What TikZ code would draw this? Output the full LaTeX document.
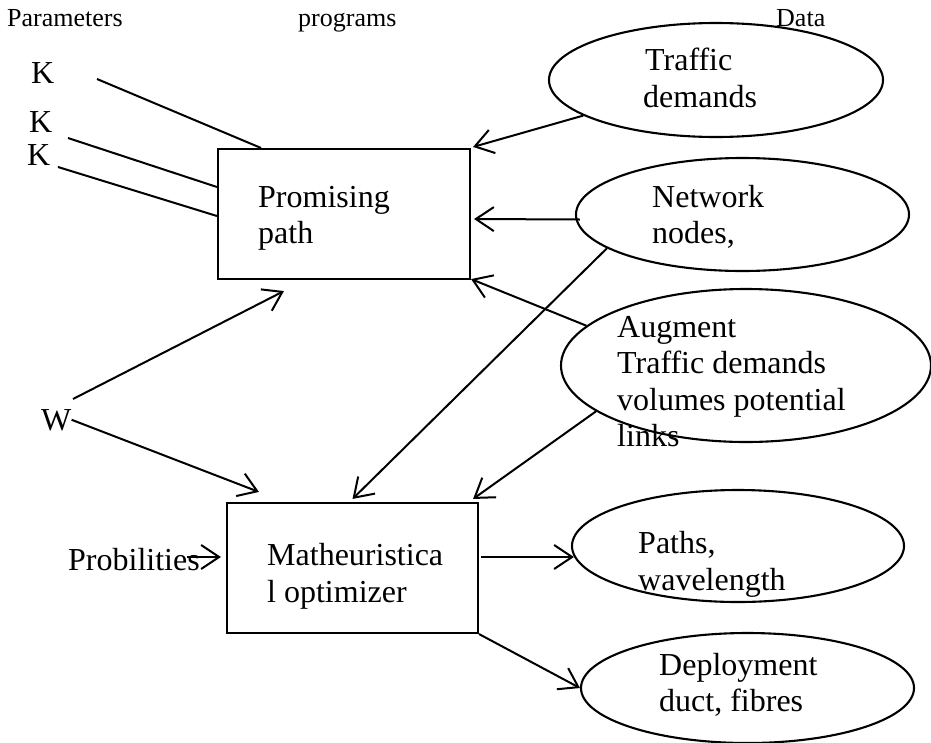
\documentclass[tikz,border=0pt]{standalone}
\usepackage{fontspec}
\setmainfont{Liberation Serif}
\usetikzlibrary{arrows.meta,shapes.geometric,calc}
\begin{document}
\begin{tikzpicture}[x=1pt,y=-1pt,
  lbl/.style={anchor=base west,inner sep=0pt,font=\fontsize{32}{36}\selectfont},
  hdr/.style={anchor=base west,inner sep=0pt,font=\fontsize{26}{30}\selectfont},
  box/.style={draw,line width=2.1pt,rectangle,inner sep=0pt},
  oval/.style={draw,line width=2.1pt,ellipse,inner sep=0pt},
  conn/.style={line width=2pt},
  arr/.style={conn,-{Straight Barb[length=18pt,width=24pt,line width=2pt]}},
]
\useasboundingbox (0,0) rectangle (931,742);

% headers
\node[hdr] (hpar) at (7,26) {Parameters};
\node[hdr] (hprog) at (298,26) {programs};
\node[hdr] (hdata) at (776,26) {Data};

% boxes
\node[box,minimum width=252pt,minimum height=130pt] (pp) at (344,214) {};
\node[box,minimum width=251pt,minimum height=130pt] (mo) at (352.5,568) {};

% ellipses
\node[oval,minimum width=334pt,minimum height=114pt] (traffic) at (716,80) {};
\node[oval,minimum width=333pt,minimum height=113pt] (net) at (742.5,214.5) {};
\node[oval,minimum width=370pt,minimum height=153pt] (aug) at (746,365.5) {};
\node[oval,minimum width=332pt,minimum height=112pt] (paths) at (738,546) {};
\node[oval,minimum width=333pt,minimum height=110pt] (deploy) at (747.5,688) {};

% texts
\node[lbl] (k1) at (31,83) {K};
\node[lbl] (k2) at (29,132) {K};
\node[lbl] (k3) at (27,165) {K};
\node[lbl] (w) at (41,430) {W};
\node[lbl] (prob) at (68,570) {Probilities};

\node[lbl] (pp1) at (258,207) {Promising};
\node[lbl] (pp2) at (258,243) {path};
\node[lbl] (mo1) at (267,565) {Matheuristica};
\node[lbl] (mo2) at (267,602) {l optimizer};

\node[lbl] (tr1) at (645,70) {Traffic};
\node[lbl] (tr2) at (643,107) {demands};
\node[lbl] (nt1) at (652,207) {Network};
\node[lbl] (nt2) at (652,243) {nodes,};
\node[lbl] (ag1) at (617,337) {Augment};
\node[lbl] (ag2) at (617,373) {Traffic demands};
\node[lbl] (ag3) at (617,410) {volumes potential};
\node[lbl] (ag4) at (617,446) {links};
\node[lbl] (pa1) at (638,553) {Paths,};
\node[lbl] (pa2) at (638,590) {wavelength};
\node[lbl] (dp1) at (659,675) {Deployment};
\node[lbl] (dp2) at (659,711) {duct, fibres};

% free ends
\coordinate (k1s) at (97,79);
\coordinate (k2s) at (68,138);
\coordinate (k3s) at (58,167);
\coordinate (ws) at (73,399);
\coordinate (probs) at (187,557);

% parameter lines
\draw[conn] (k1s) -- ($(pp.north west)+(44,0)$);
\draw[conn] (k2s) -- ($(pp.west)+(0,-27)$);
\draw[conn] (k3s) -- ($(pp.west)+(0,2)$);

% arrows
\draw[arr] (ws) -- ($(pp.south west)+(67,11)$);
\draw[arr] (w.east) -- ($(mo.north west)+(33,-10)$);
\draw[arr] (probs) -- ($(mo.west)+(-5,-11)$);

\draw[arr] (traffic.195) -- ($(pp.north east)+(2,-1)$);
\draw[arr] ($(net.west)+(5,5)$) -- ($(pp.east)+(3,5)$);
\draw[arr] (aug.166) -- ($(pp.south east)+(0,-1)$);

\draw[arr] (net.194.5) -- ($(mo.north)+(0,-3)$);
\draw[arr] (aug.197) -- ($(mo.north east)+(-6,-3)$);

\draw[arr] ($(mo.east)+(2,-11)$) -- ($(paths.west)+(3,11)$);
\draw[arr] (mo.south east) -- (deploy.west);
\end{tikzpicture}
\end{document}
